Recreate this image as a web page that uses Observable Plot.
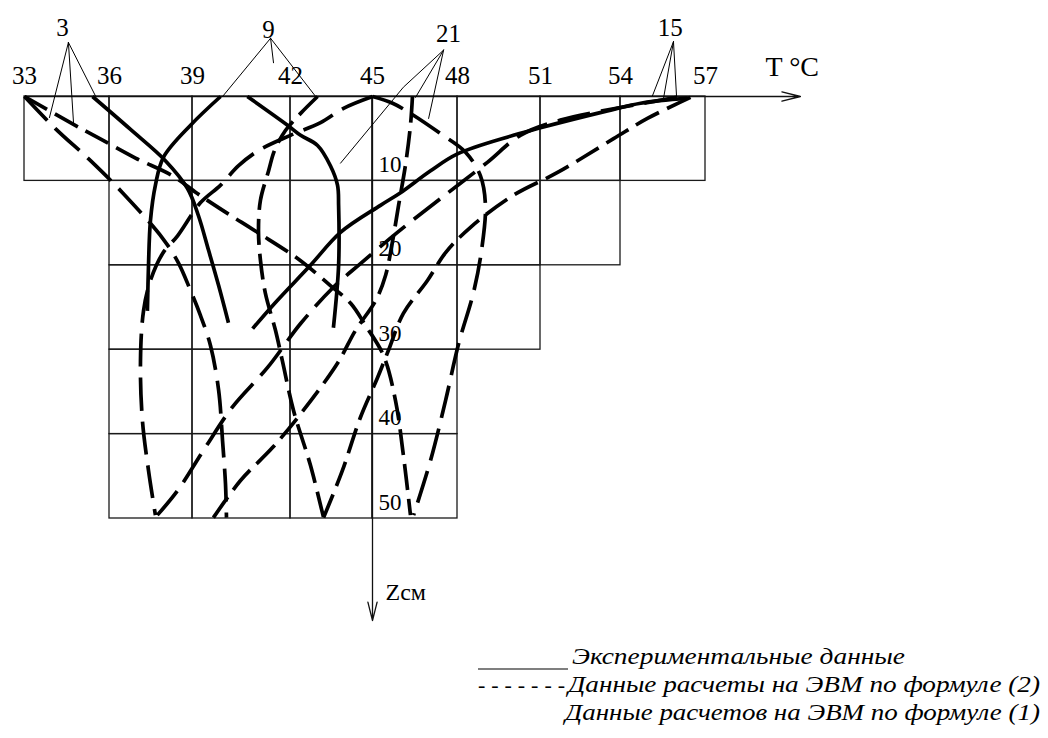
<!DOCTYPE html>
<html>
<head>
<meta charset="utf-8">
<script src="https://cdn.jsdelivr.net/npm/d3@7"></script>
<script src="https://cdn.jsdelivr.net/npm/@observablehq/plot@0.6"></script>
<style>
  body { margin: 0; background: #fff; }
  #chart svg, #legend svg { display: block; }
</style>
</head>
<body>
<div id="chart"></div>
<div id="legend"></div>
<script>
// Soil temperature profiles T(z) at 3, 9, 15 and 21 h:
// measured (solid) and computed by formulas (2) and (1) (dashed).

// Temperature axis ticks, °C
const temps = [33, 36, 39, 42, 45, 48, 51, 54, 57];
// Depth ticks, cm
const depths = [10, 20, 30, 40, 50];
// Table cells: each depth band spans its own temperature range
const bandTop = [0, 10, 20, 30, 40];
const bandFrom = [33, 36, 36, 36, 36];
const bandTo = [57, 54, 51, 48, 48];

// Curves, [T °C, z cm]
const exp3 = [[35.4,0],[36.76,3.9],[38.02,7.6],[38.82,10.9],[39.18,14.1],[39.49,18.2],[39.8,22.4],[40.1,26.8]];
const calc2_3 = [[33,0],[34.62,3.1],[35.61,4.9],[36.94,7.3],[38.28,9.4],[39.15,11.5],[40.01,13.7],[40.99,16.1],[42.26,19.2],[43.46,22.4],[44.2,24.5],[44.74,27.1],[45.39,30.7],[45.81,36.0],[46.09,42.5],[46.34,49.6]];
const calc1_3 = [[33,0],[34.09,3.8],[35.33,7.6],[36.47,11.4],[37.92,16.8],[38.49,19.7],[38.93,23.0],[39.24,25.9],[39.55,29.5],[39.8,34.8],[39.92,40.8],[40.01,45.9],[40.04,49.9]];

const exp9 = [[39.86,0],[38.93,3.4],[37.95,7.2],[37.66,10.5],[37.48,14.7],[37.41,20.0],[37.37,25.4]];
const calc2_9 = [[42.99,0],[42.37,2.0],[41.85,4.0],[41.51,6.4],[41.33,8.8],[41.08,12.3],[41.02,15.9],[41.08,19.4],[41.23,23.3],[41.54,27.7],[41.75,31.3],[42.11,37.2],[42.73,43.7],[43.21,49.9]];
const calc1_9 = [[45,0],[43.94,1.4],[43.1,3.1],[42.0,4.6],[41.02,6.4],[40.41,8.2],[39.86,10.5],[39.24,12.6],[38.46,16.5],[37.92,18.6],[37.48,21.8],[37.23,25.4],[37.12,31.3],[37.19,38.4],[37.41,44.3],[37.66,49.6]];

const exp15 = [[56.36,0.2],[54.71,0.8],[53.51,1.7],[51.0,3.7],[50.02,4.6],[48.0,6.8],[47.05,8.8],[45.99,11.4],[45.28,12.9],[43.83,16.1],[42.73,20.0],[41.54,24.4],[40.84,27.5]];
const calc2_15 = [[56.47,0.1],[54.95,2.6],[53.74,5.0],[51.64,9.0],[50.02,11.7],[48.47,15.5],[47.58,18.5],[46.94,21.8],[46.09,25.7],[45.56,30.1],[45.18,33.3],[44.56,38.0],[43.9,44.3],[43.21,49.9]];
const calc1_15 = [[55.98,0.1],[54.0,1.3],[51.75,2.8],[50.27,4.6],[49.08,7.8],[47.4,12.1],[45.88,16.1],[44.56,19.8],[43.57,22.6],[42.37,26.9],[41.3,32.1],[40.22,36.8],[39.34,41.9],[38.46,46.7],[37.73,49.6]];

const exp21 = [[40.68,0],[41.91,3.4],[42.37,4.6],[42.99,5.8],[43.46,8.2],[43.72,10.5],[43.76,12.9],[43.76,20.0],[43.57,27.4]];
const calc2_21 = [[46.41,0],[46.34,3.4],[46.16,8.2],[45.92,12.9],[45.71,17.1],[45.46,21.2],[45.11,24.2],[44.38,27.7],[43.72,31.6],[42.37,37.6],[41.45,41.6],[40.47,45.5],[39.64,49.9]];
const calc1_21 = [[45,0],[45.71,0.8],[46.34,2.0],[47.4,4.4],[48.29,6.6],[48.83,9.4],[49.01,12.9],[48.87,18.2],[48.58,23.2],[48.04,29.3],[47.58,36.0],[47.05,43.1],[46.45,49.6]];

// Hour labels and the leader lines pointing at their curves
const hours = ["3", "9", "21", "15"];
const hourAt = [[34.34,-7.2],[41.33,-6.9],[47.68,-6.4],[55.76,-7.2]];
const leaders = [
  [[34.55,-6.4],[33.88,2.5]], [[34.55,-6.4],[34.73,3.1]], [[34.55,-6.4],[35.5,-0.1]],
  [[41.39,-6.9],[39.92,0]], [[41.39,-6.9],[41.48,-4.0]], [[41.39,-6.9],[42.92,0]],
  [[47.51,-5.5],[46.09,-1.1],[43.83,7.9]], [[47.51,-5.5],[46.52,0.1]], [[47.51,-5.5],[46.98,2.6]],
  [[55.87,-6.5],[55.13,-0.1]], [[55.87,-6.5],[55.52,0.2]], [[55.87,-6.5],[55.98,0.1]]
];

const legendItems = [
  "Экспериментальные данные",
  "Данные расчеты на ЭВМ по формуле (2)",
  "Данные расчетов на ЭВМ по формуле (1)"
];

// ---- derived tables ----
const cells = [];
bandTop.forEach((z, i) => {
  for (let t = bandFrom[i]; t < bandTo[i]; t += 3) cells.push({t1: t, t2: t + 3, z1: z, z2: z + 10});
});

const curves = [
  {pts: exp3, kind: "exp"}, {pts: calc2_3, kind: "c2"}, {pts: calc1_3, kind: "c1"},
  {pts: exp9, kind: "exp"}, {pts: calc2_9, kind: "c2"}, {pts: calc1_9, kind: "c1"},
  {pts: exp15, kind: "exp"}, {pts: calc2_15, kind: "c2"}, {pts: calc1_15, kind: "c1"},
  {pts: exp21, kind: "exp"}, {pts: calc2_21, kind: "c2"}, {pts: calc1_21, kind: "c1"}
];
const dashFor = {exp: null, c2: "26,9", c1: "33,11"};

const serif = "Liberation Serif";
const axes = [
  {x1: 33, y1: 0, x2: 60.35, y2: 0},
  {x1: 45, y1: 0, x2: 45, y2: 62.1}
];

const chart = Plot.plot({
  width: 1048,
  height: 630,
  margin: 0,
  style: {fontFamily: serif, background: "#fff", color: "#000"},
  x: {type: "linear", domain: temps, range: [24, 109, 192, 290, 372, 457, 540, 620, 705], axis: null},
  y: {domain: [0, 50], range: [96, 518], axis: null},
  marks: [
    Plot.rect(cells, {x1: "t1", x2: "t2", y1: "z1", y2: "z2", fill: "none", stroke: "#1a1a1a", strokeWidth: 1.3}),
    Plot.arrow(axes, {x1: "x1", y1: "y1", x2: "x2", y2: "y2", stroke: "#111", strokeWidth: 1.3, headAngle: 28, headLength: 22}),
    ...curves.map(c => Plot.line(c.pts, {
      x: d => d[0], y: d => d[1], curve: "catmull-rom",
      stroke: "#000", strokeWidth: 3.7,
      strokeDasharray: dashFor[c.kind], strokeLinecap: "butt", strokeLinejoin: "round"
    })),
    ...leaders.map(l => Plot.line(l, {x: d => d[0], y: d => d[1], stroke: "#000", strokeWidth: 1})),
    Plot.text(temps, {x: d => d, y: () => 0, text: d => String(d), dy: -13, lineAnchor: "bottom", fontSize: 25, fontFamily: serif}),
    Plot.text(depths, {x: () => 45, y: d => d, text: d => String(d), dx: 6, dy: -9, textAnchor: "start", lineAnchor: "bottom", fontSize: 23, fontFamily: serif}),
    Plot.text(hours, {x: (d, i) => hourAt[i][0], y: (d, i) => hourAt[i][1], text: d => d, lineAnchor: "bottom", fontSize: 25, fontFamily: serif}),
    Plot.text(["T °C"], {x: () => 59.12, y: () => 0, dy: -21, text: d => d, textAnchor: "start", lineAnchor: "bottom", fontSize: 28, fontFamily: serif}),
    Plot.text(["Zсм"], {x: () => 45, y: () => 59.7, dx: 13, text: d => d, textAnchor: "start", lineAnchor: "bottom", fontSize: 24, fontFamily: serif})
  ]
});
document.getElementById("chart").appendChild(chart);

// ---- legend below the chart ----
const leg = d3.select("#legend").append("svg")
  .attr("width", 1048).attr("height", 108);
leg.append("line").attr("x1", 478).attr("x2", 568).attr("y1", 39).attr("y2", 39)
  .attr("stroke", "#000").attr("stroke-width", 1.1);
leg.append("text").attr("x", 478).attr("y", 62).text("- - - - - - -")
  .attr("font-family", serif).attr("font-style", "italic").attr("font-size", 22)
  .attr("textLength", 87).attr("lengthAdjust", "spacing");
const lx = [572, 568, 565], ly = [34, 62, 90], lw = [333, 472, 475];
legendItems.forEach((t, i) => {
  leg.append("text").attr("x", lx[i]).attr("y", ly[i]).text(t)
    .attr("font-family", serif).attr("font-style", "italic").attr("font-size", 23)
    .attr("textLength", lw[i]).attr("lengthAdjust", "spacingAndGlyphs");
});
</script>
</body>
</html>
